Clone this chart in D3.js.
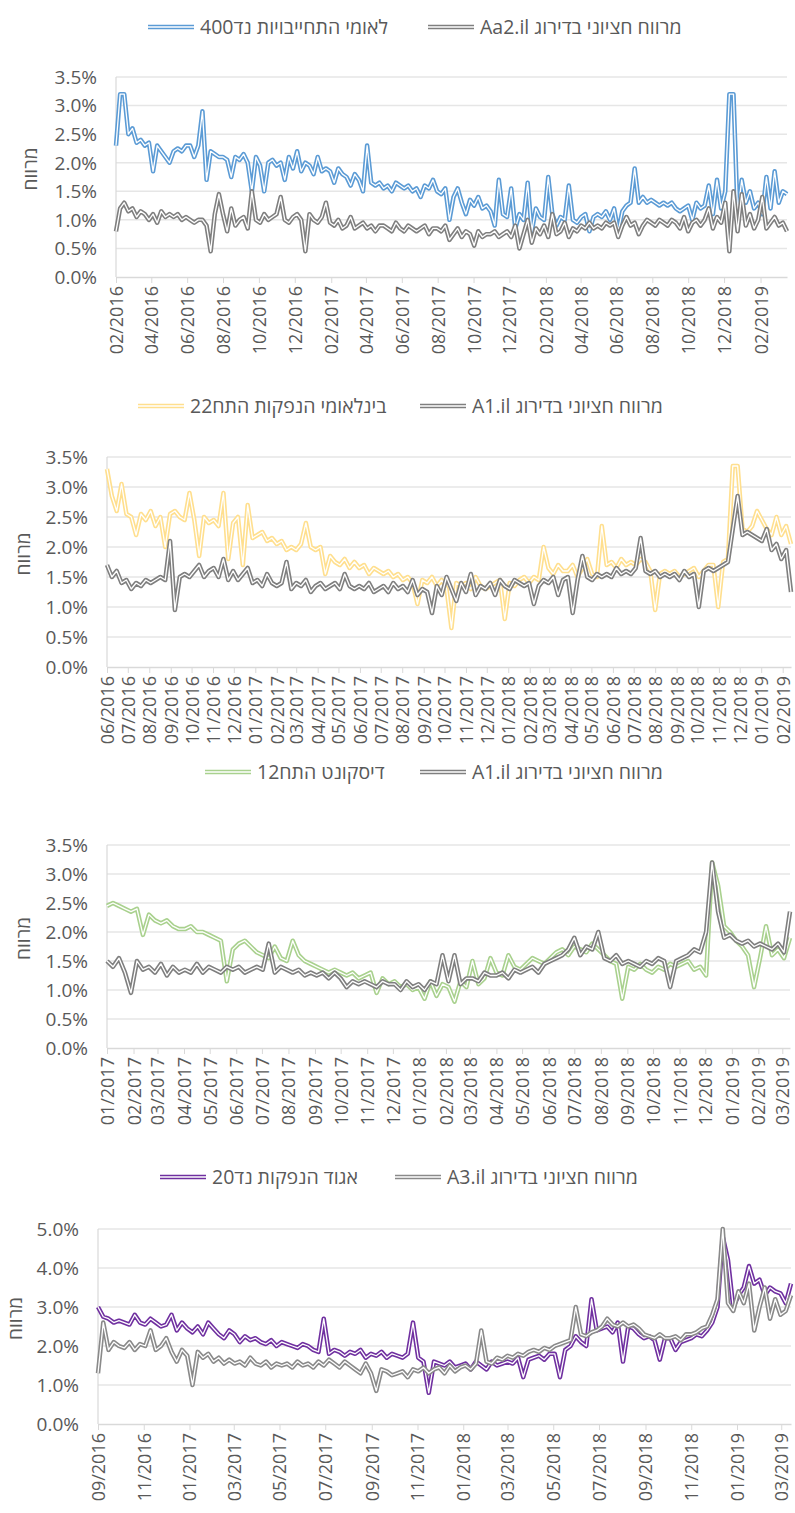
<!DOCTYPE html>
<html>
<head>
<meta charset="utf-8">
<script src="https://cdn.jsdelivr.net/npm/d3@7"></script>
<style>
  body { margin: 0; background: #fff; }
  text { font-family: "Open Sans", "DejaVu Sans", sans-serif; fill: #595959; }
</style>
</head>
<body>
<svg id="chart" width="795" height="1513"></svg>
<script>
//series names
var grayName1 = 'מרווח חציוני בדירוג Aa2.il';
var bondName1 = 'לאומי התחייבויות נד400';
var grayName2 = 'מרווח חציוני בדירוג A1.il';
var bondName2 = 'בינלאומי הנפקות התח22';
var grayName3 = 'מרווח חציוני בדירוג A1.il';
var bondName3 = 'דיסקונט התח12';
var grayName4 = 'מרווח חציוני בדירוג A3.il';
var bondName4 = 'אגוד הנפקות נד20';
var yTitle = 'מרווח';

//first weekly observation of each panel
var start1 = '2016-02-01', start2 = '2016-06-01', start3 = '2017-01-01', start4 = '2016-09-01';

//tick labels
var xTicks1 = ['02/2016','04/2016','06/2016','08/2016','10/2016','12/2016','02/2017','04/2017','06/2017',
  '08/2017','10/2017','12/2017','02/2018','04/2018','06/2018','08/2018','10/2018','12/2018','02/2019'];
var xTicks2 = ['06/2016','07/2016','08/2016','09/2016','10/2016','11/2016','12/2016','01/2017','02/2017',
  '03/2017','04/2017','05/2017','06/2017','07/2017','08/2017','09/2017','10/2017','11/2017','12/2017',
  '01/2018','02/2018','03/2018','04/2018','05/2018','06/2018','07/2018','08/2018','09/2018','10/2018',
  '11/2018','12/2018','01/2019','02/2019'];
var xTicks3 = ['01/2017','02/2017','03/2017','04/2017','05/2017','06/2017','07/2017','08/2017','09/2017',
  '10/2017','11/2017','12/2017','01/2018','02/2018','03/2018','04/2018','05/2018','06/2018','07/2018',
  '08/2018','09/2018','10/2018','11/2018','12/2018','01/2019','02/2019','03/2019'];
var xTicks4 = ['09/2016','11/2016','01/2017','03/2017','05/2017','07/2017','09/2017','11/2017','01/2018',
  '03/2018','05/2018','07/2018','09/2018','11/2018','01/2019','03/2019'];
var yTicks1 = [0, 0.5, 1, 1.5, 2, 2.5, 3, 3.5];
var yTicks4 = [0, 1, 2, 3, 4, 5];

//spreads in %, one value per week
var bond1 = [2.3,3.2,3.2,2.5, 2.6,2.35,2.4,2.3, 2.35,1.85,2.3,2.2,2.1, 2.0,2.2,2.25,2.2, 2.3,2.3,2.1,2.3,
  2.9,1.7,2.2,2.15,2.1, 2.1,2.05,1.75,2.1, 2.05,2.15,2.0,1.5, 2.1,1.95,1.5,2.0,2.05, 1.95,2.0,1.7,2.1,
  1.9,2.2,1.85,2.0, 1.95,1.8,2.1,1.85,1.9,
  1.85,1.65,1.9,1.8, 1.75,1.6,1.8,1.7, 1.5,2.3,1.65,1.6,1.65, 1.55,1.6,1.5,1.65, 1.6,1.55,1.6,1.5,
  1.55,1.4,1.6,1.55,1.7, 1.5,1.45,1.55,1.0, 1.4,1.55,1.3,1.1, 1.35,1.25,1.4,1.2,1.25, 1.15,0.9,1.7,1.1,
  1.05,1.55,0.85,1.1, 1.0,1.65,0.8,1.2,1.05,
  1.0,1.75,1.1,0.9, 1.05,1.0,1.6,1.0, 0.95,1.05,1.1,0.8,1.05, 1.1,1.05,1.15,1.0, 1.2,0.8,1.15,1.25,
  1.3,1.9,1.3,1.4,1.3, 1.35,1.3,1.25,1.3, 1.25,1.3,1.2,1.15, 1.2,1.25,1.0,1.3,1.2, 1.25,1.6,1.1,1.7,
  1.2,1.5,3.2,3.2, 1.1,1.7,1.3,1.5,1.2,
  1.3,1.1,1.75,1.2, 1.85,1.3,1.5,1.45];
var gray1 = [0.8,1.2,1.3,1.15, 1.2,1.05,1.15,1.1, 1.0,1.1,0.95,1.15,1.05, 1.1,1.05,1.1,1.0, 1.05,1.0,0.95,1.0,
  1.0,0.9,0.45,1.1,1.45, 1.1,0.8,1.2,0.9, 1.0,1.05,0.85,1.5, 1.0,0.95,1.1,1.0,1.05, 1.1,1.4,1.0,0.95,
  1.05,1.1,1.0,0.45, 1.1,1.0,0.95,1.05,1.3,
  0.95,0.9,1.0,0.85, 0.9,1.05,0.85,0.9, 0.95,0.85,0.9,0.8,0.9, 0.9,0.85,0.8,0.95, 0.85,0.8,0.9,0.85,
  0.8,0.85,0.9,0.75,0.85, 0.85,0.8,0.9,0.65, 0.75,0.85,0.7,0.8, 0.75,0.55,0.8,0.7,0.75, 0.75,0.8,0.7,0.75,
  0.8,0.7,0.9,0.5, 0.75,1.0,0.6,0.85,0.75,
  0.9,0.7,1.1,0.75, 0.8,0.95,0.7,0.85, 0.8,0.9,0.85,0.95,0.85, 0.9,0.85,0.95,0.9, 0.95,0.7,0.9,1.05,
  0.9,0.95,0.75,0.9,1.0, 0.95,0.9,1.0,0.95, 0.9,1.0,0.95,0.85, 1.05,0.8,0.95,1.0,0.9, 1.0,1.2,0.85,1.05,
  0.95,1.3,0.45,1.5, 0.8,1.45,0.9,1.1,0.85,
  1.0,1.4,0.85,0.95, 1.05,0.9,0.95,0.8];

var bond2 = [3.3,2.85,2.6,3.05, 2.55,2.5,2.2,2.55,2.45, 2.6,2.35,2.5,2.0, 2.55,2.6,2.5,2.45,
  2.9,2.45,1.85,2.5,2.4, 2.45,2.35,2.9,1.8, 2.4,2.5,1.7,2.7, 2.15,2.2,2.25,2.1,2.15, 2.05,2.1,1.95,2.0,
  1.95,2.05,2.4,2.0,1.95, 2.0,1.55,1.85,1.75, 1.7,1.8,1.65,1.75, 1.65,1.7,1.55,1.65, 1.6,1.55,1.6,1.5,1.55,
  1.45,1.5,1.4,1.05, 1.45,1.4,1.5,1.35, 1.45,1.3,0.65,1.4,1.35, 1.4,1.3,1.5,1.35, 1.3,1.35,1.4,1.45,
  0.8,1.4,1.35,1.45,1.5, 1.4,1.5,1.45,2.0, 1.65,1.55,1.7,1.6, 1.6,1.7,1.5,1.65,1.8, 1.55,1.5,2.35,1.7,
  1.75,1.65,1.8,1.7, 1.75,1.7,1.8,1.75,1.6, 0.95,1.55,1.6,1.55, 1.6,1.5,1.55,1.6, 1.65,1.5,1.6,1.7,1.7,
  1.0,1.75,1.8,3.35, 3.35,2.3,2.25,2.35, 2.6,2.45,2.3,2.2,2.5, 2.2,2.35,2.05];
var gray2 = [1.7,1.5,1.6,1.4, 1.45,1.3,1.4,1.35,1.45, 1.4,1.45,1.5,1.45, 2.1,0.95,1.5,1.55,
  1.5,1.6,1.7,1.5,1.6, 1.65,1.5,1.8,1.45, 1.6,1.45,1.55,1.65, 1.4,1.45,1.35,1.55,1.4, 1.35,1.4,1.75,1.3,
  1.4,1.35,1.45,1.25,1.35, 1.4,1.3,1.35,1.4, 1.3,1.55,1.35,1.3, 1.35,1.3,1.4,1.25, 1.3,1.35,1.25,1.4,1.3,
  1.35,1.25,1.45,1.2, 1.3,1.25,0.9,1.35, 1.2,1.5,1.3,1.1,1.4, 1.25,1.55,1.2,1.35, 1.3,1.4,1.2,1.45,
  1.35,1.3,1.45,1.4,1.35, 1.4,1.05,1.35,1.45, 1.4,1.5,1.2,1.45, 1.5,0.9,1.45,1.85,1.5, 1.45,1.55,1.5,1.55,
  1.5,1.65,1.55,1.6, 1.55,1.65,2.15,1.6,1.55, 1.6,1.5,1.55,1.5, 1.55,1.45,1.6,1.5, 1.55,1.0,1.6,1.65,1.6,
  1.65,1.7,1.75,2.3, 2.85,2.2,2.25,2.2, 2.15,2.1,2.3,1.95,2.05, 1.8,1.95,1.25];

var bond3 = [2.45,2.5,2.45,2.4,2.35, 2.4,1.95,2.3,2.2, 2.15,2.2,2.1,2.05, 2.05,2.1,2.0,2.0,
  1.95,1.9,1.85,1.15,1.7, 1.8,1.85,1.75,1.65, 1.6,1.55,1.75,1.55,1.5, 1.85,1.6,1.5,1.45, 1.4,1.35,1.3,1.35,
  1.3,1.25,1.3,1.2,1.25, 1.3,0.95,1.2,1.1, 1.15,1.05,1.1,1.0,
  1.05,0.85,1.15,0.9,1.1, 1.05,0.8,1.15,1.05, 1.5,1.1,1.2,1.55, 1.3,1.25,1.6,1.4,1.35, 1.45,1.55,1.5,1.45,
  1.55,1.65,1.7,1.6, 1.75,1.7,1.65,1.8,1.7, 1.6,1.5,1.45,0.85, 1.4,1.35,1.45,1.35, 1.3,1.4,1.35,1.45,1.4,
  1.45,1.5,1.35,1.4, 1.25,3.2,2.8,2.1,
  2.0,1.85,1.75,1.6,1.05, 1.55,2.1,1.6,1.7, 1.55,1.9];
var gray3 = [1.5,1.4,1.55,1.3,0.95, 1.5,1.35,1.4,1.3, 1.45,1.25,1.4,1.3, 1.35,1.3,1.45,1.3,
  1.4,1.35,1.3,1.4,1.35, 1.4,1.3,1.35,1.4, 1.35,1.8,1.3,1.4,1.35, 1.3,1.35,1.25,1.3, 1.25,1.3,1.2,1.3,
  1.2,1.05,1.15,1.1,1.15, 1.1,1.05,1.15,1.1, 1.1,1.0,1.15,1.05,
  1.1,1.0,1.15,1.1,1.6, 1.15,1.6,1.1,1.2, 1.2,1.15,1.3,1.25, 1.25,1.3,1.2,1.35,1.3, 1.35,1.4,1.3,1.45,
  1.5,1.55,1.6,1.7, 1.9,1.6,1.75,1.7,2.0, 1.55,1.5,1.6,1.45, 1.5,1.45,1.4,1.5, 1.45,1.55,1.5,1.05,1.5,
  1.55,1.6,1.7,1.65, 2.0,3.2,2.35,1.9,
  1.95,1.85,1.8,1.85,1.75, 1.8,1.75,1.7,1.8, 1.65,2.35];

var bond4 = [3.0,2.75,2.7,2.6, 2.65,2.6,2.55,2.8,2.6, 2.55,2.7,2.6,2.5, 2.55,2.8,2.4,2.6,
  2.45,2.35,2.5,2.3,2.6, 2.45,2.3,2.2,2.4, 2.3,2.1,2.25,2.15,2.2, 2.1,2.05,2.15,2.0, 2.1,2.05,2.0,1.95,2.05,
  2.0,1.9,1.85,2.7, 1.8,1.9,1.85,1.75, 1.85,1.8,1.9,1.7, 1.8,1.75,1.85,1.7,1.8, 1.75,1.7,1.8,2.6,
  1.7,1.6,0.8,1.6, 1.55,1.5,1.6,1.45,1.5,
  1.55,1.4,1.6,1.5, 1.4,1.6,1.5,1.55, 1.6,1.55,1.7,1.2,1.65, 1.7,1.75,1.65,1.8, 1.8,1.2,1.9,2.0,
  2.25,2.1,2.0,3.2,2.4, 2.45,2.5,2.35,2.6, 1.6,2.5,2.45,2.3, 2.2,2.25,2.15,1.65,2.2, 2.2,1.9,2.1,2.15,
  2.2,2.3,2.25,2.4, 2.6,3.0,4.8,4.2,3.0,
  3.3,3.5,4.05,3.6, 3.7,3.3,3.5,3.4, 3.35,3.1,3.6];
var gray4 = [1.3,2.6,1.9,2.1, 2.0,1.95,2.1,1.9,2.05, 2.0,2.4,1.9,2.0, 2.2,1.85,1.6,1.9,
  1.75,1.0,1.85,1.7,1.8, 1.6,1.7,1.55,1.65, 1.55,1.6,1.5,1.7,1.55, 1.5,1.6,1.45,1.55, 1.5,1.55,1.45,1.6,1.5,
  1.55,1.45,1.6,1.5, 1.65,1.55,1.45,1.6, 1.5,1.4,1.3,1.55, 1.3,0.85,1.4,1.35,1.25, 1.3,1.35,1.2,1.4,
  1.35,1.45,1.3,1.4, 1.45,1.3,1.5,1.35,1.45,
  1.5,1.4,1.55,2.4, 1.6,1.55,1.7,1.65, 1.75,1.7,1.8,1.75,1.85, 1.9,1.85,1.95,1.9, 2.0,2.05,2.1,2.15,
  3.0,2.3,2.25,2.35,2.4, 2.5,2.7,2.55,2.5, 2.6,2.5,2.55,2.45, 2.3,2.25,2.2,2.3,2.2, 2.2,2.25,2.15,2.3,
  2.3,2.35,2.45,2.5, 2.8,3.2,5.0,3.1,2.9,
  3.4,3.1,3.6,2.4, 3.0,3.5,2.7,3.2, 2.8,2.9,3.3];

var parseDay = d3.timeParse('%Y-%m-%d');
var parseMonth = d3.timeParse('%m/%Y');
var fmtPct = d3.format('.1%');

var svg = d3.select('#chart');

//weekly points of a series
function weekly(start, values) {
  var t0 = parseDay(start);
  return values.map(function(v, i) {
    return {date: d3.timeDay.offset(t0, i * 7), v: v};
  });
}

//one "double" line, like excel's compound line
function doubleLine(g, path, color, w) {
  g.append('path').attr('d', path).attr('fill', 'none')
    .attr('stroke', color).attr('stroke-width', w)
    .attr('stroke-linejoin', 'round');
  g.append('path').attr('d', path).attr('fill', 'none')
    .attr('stroke', '#fff').attr('stroke-width', 1.3)
    .attr('stroke-linejoin', 'round');
}

function drawPanel(p) {
  var g = svg.append('g');
  var bond = weekly(p.start, p.bond);
  var gray = weekly(p.start, p.gray);

  var x = d3.scaleTime()
    .domain(d3.extent(bond, function(d) { return d.date; }))
    .range([p.left, p.right]);
  var y = d3.scaleLinear()
    .domain([0, d3.max(p.yTicks)])
    .range([p.bottom, p.top]);

  //gridlines
  g.append('g').selectAll('line')
    .data(p.yTicks.filter(function(d) { return d > 0; }))
    .enter().append('line')
    .attr('x1', p.left).attr('x2', p.right)
    .attr('y1', function(d) { return y(d); })
    .attr('y2', function(d) { return y(d); })
    .attr('stroke', '#e6e6e6').attr('stroke-width', 1.5);

  //left axis line
  g.append('line')
    .attr('x1', p.left).attr('x2', p.left)
    .attr('y1', y(d3.max(p.yTicks))).attr('y2', p.bottom)
    .attr('stroke', '#d9d9d9').attr('stroke-width', 1.2);

  //y labels
  g.append('g').selectAll('text')
    .data(p.yTicks)
    .enter().append('text')
    .attr('x', p.left - 19)
    .attr('y', function(d) { return y(d); })
    .attr('dy', '0.36em')
    .attr('text-anchor', 'end')
    .style('font-size', '19px')
    .text(function(d) { return fmtPct(d / 100); });

  //y title
  g.append('text')
    .attr('transform', 'translate(' + p.titleX + ',' + ((p.top + p.bottom) / 2 - 8) + ') rotate(-90)')
    .attr('text-anchor', 'middle')
    .attr('dy', '0.35em')
    .style('font-size', '19px')
    .text(yTitle);

  //x axis
  var xAxis = d3.axisBottom(x)
    .tickValues(p.xTicks.map(function(s) { return parseMonth(s); }))
    .tickFormat(d3.timeFormat('%m/%Y'))
    .tickSize(6)
    .tickSizeOuter(0);
  var gx = g.append('g')
    .attr('transform', 'translate(0,' + p.bottom + ')')
    .call(xAxis)
    .attr('font-family', null).attr('font-size', null);
  gx.select('.domain').attr('stroke', '#d9d9d9').attr('stroke-width', 1.5);
  gx.selectAll('.tick line').attr('stroke', '#d9d9d9');
  gx.selectAll('.tick text')
    .attr('transform', 'rotate(-90)')
    .attr('text-anchor', 'end')
    .attr('x', -9).attr('y', 0).attr('dy', '0.36em')
    .style('font-size', '18px');

  //series
  var line = d3.line()
    .x(function(d) { return x(d.date); })
    .y(function(d) { return y(d.v); });
  var lg = g.append('g');
  doubleLine(lg, line(bond), p.color, 4.5);
  doubleLine(lg, line(gray), p.grayColor, 4.5);

  //legend
  var items = [
    {name: p.bondName, color: p.color, sx: p.legend[0]},
    {name: p.grayName, color: p.grayColor, sx: p.legend[1]}
  ];
  var leg = g.append('g').selectAll('g')
    .data(items)
    .enter().append('g');
  leg.each(function(d) {
    var s = d3.select(this);
    doubleLine(s, 'M' + d.sx + ',' + p.legendY + 'H' + (d.sx + 46), d.color, 4.5);
  });
  leg.append('text')
    .attr('x', function(d) { return d.sx + 52; })
    .attr('y', p.legendY)
    .attr('dy', '0.35em')
    .attr('direction', 'rtl')
    .attr('text-anchor', 'end')
    .style('font-size', '19.5px')
    .text(function(d) { return d.name; });
}

drawPanel({start: start1, bond: bond1, gray: gray1, xTicks: xTicks1, yTicks: yTicks1,
  bondName: bondName1, grayName: grayName1, color: '#5b9bd5', grayColor: '#7f7f7f',
  left: 116, right: 787, top: 77, bottom: 277, titleX: 30, legendY: 27, legend: [148, 428]});
drawPanel({start: start2, bond: bond2, gray: gray2, xTicks: xTicks2, yTicks: yTicks1,
  bondName: bondName2, grayName: grayName2, color: '#ffdf8e', grayColor: '#7f7f7f',
  left: 107, right: 791, top: 457, bottom: 667, titleX: 23, legendY: 406, legend: [138, 420]});
drawPanel({start: start3, bond: bond3, gray: gray3, xTicks: xTicks3, yTicks: yTicks1,
  bondName: bondName3, grayName: grayName3, color: '#a9d18e', grayColor: '#7f7f7f',
  left: 107, right: 790, top: 845, bottom: 1048, titleX: 23, legendY: 772, legend: [205, 420]});
drawPanel({start: start4, bond: bond4, gray: gray4, xTicks: xTicks4, yTicks: yTicks4,
  bondName: bondName4, grayName: grayName4, color: '#7030a0', grayColor: '#8a8a8a',
  left: 98, right: 791, top: 1229, bottom: 1424, titleX: 15, legendY: 1177, legend: [160, 395]});
</script>
</body>
</html>
